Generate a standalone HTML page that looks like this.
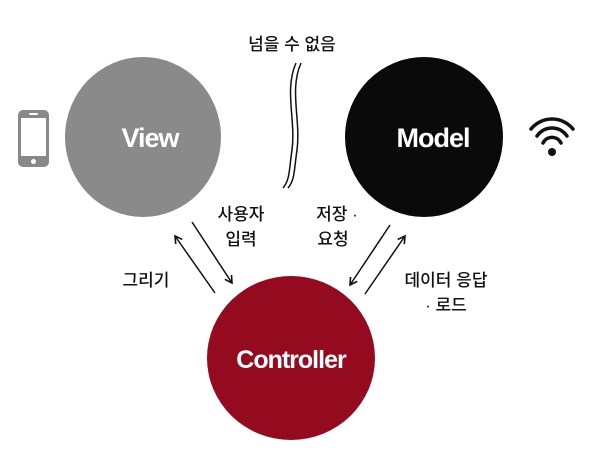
<!DOCTYPE html>
<html><head><meta charset="utf-8"><style>
body{margin:0;background:#fff;}
svg{display:block}
text{font-family:"Liberation Sans","Noto Sans CJK KR",sans-serif;}
</style></head><body>
<svg width="600" height="466" viewBox="0 0 600 466">
<defs><marker id="a" markerWidth="10" markerHeight="10" refX="8" refY="5" orient="auto" markerUnits="userSpaceOnUse"><path d="M1,1 L8,5 L1,9" fill="none" stroke="#111" stroke-width="1.6"/></marker></defs>
<ellipse cx="143" cy="137" rx="78" ry="80" fill="#8a8a8a"/>
<ellipse cx="424" cy="137" rx="79" ry="80" fill="#0a0a0a"/>
<ellipse cx="291" cy="358" rx="84" ry="82" fill="#940a1e"/>
<text x="150" y="147" font-size="27" font-weight="bold" fill="#fff" text-anchor="middle" letter-spacing="-1">View</text>
<text x="433" y="147" font-size="27" font-weight="bold" fill="#fff" text-anchor="middle" letter-spacing="-1">Model</text>
<text x="291" y="368" font-size="25" font-weight="bold" fill="#fff" text-anchor="middle" letter-spacing="-1">Controller</text>
<text x="292" y="50" font-size="17" fill="#111" font-weight="500" text-anchor="middle">넘을 수 없음</text>
<path d="M296,63 C284,90 296,120 292,150 C289,170 290,180 283,188" fill="none" stroke="#111" stroke-width="1.5"/>
<path d="M301,63 C289,90 301,120 297,150 C294,170 295,180 288,188" fill="none" stroke="#111" stroke-width="1.5"/>
<rect x="18" y="110" width="31" height="57" rx="5" fill="#888"/>
<rect x="21" y="118" width="25" height="38" fill="#fff"/>
<circle cx="33.5" cy="161.5" r="2.5" fill="#fff"/>
<rect x="29" y="113" width="9" height="2" rx="1" fill="#fff"/>
<g fill="none" stroke="#111" stroke-width="3.5" stroke-linecap="round">
<path d="M531,129 A27,27 0 0 1 573,129"/>
<path d="M537,136 A18,18 0 0 1 567,136"/>
<path d="M543,143 A10,10 0 0 1 561,143"/>
</g>
<circle cx="552" cy="152" r="4" fill="#111"/>
<g stroke="#111" stroke-width="1.5">
<line x1="215" y1="293" x2="175" y2="236" marker-end="url(#a)"/>
<line x1="192" y1="222" x2="232" y2="283" marker-end="url(#a)"/>
<line x1="390" y1="225" x2="350" y2="285" marker-end="url(#a)"/>
<line x1="365" y1="294" x2="405" y2="236" marker-end="url(#a)"/>
</g>
<g font-size="17" fill="#111" font-weight="500" text-anchor="middle">
<text x="241" y="220">사용자</text>
<text x="241" y="245">입력</text>
<text x="337" y="220">저장 ·</text>
<text x="333" y="245">요청</text>
<text x="146" y="286">그리기</text>
<text x="446" y="286">데이터 응답</text>
<text x="446" y="311">· 로드</text>
</g>
</svg>
</body></html>
